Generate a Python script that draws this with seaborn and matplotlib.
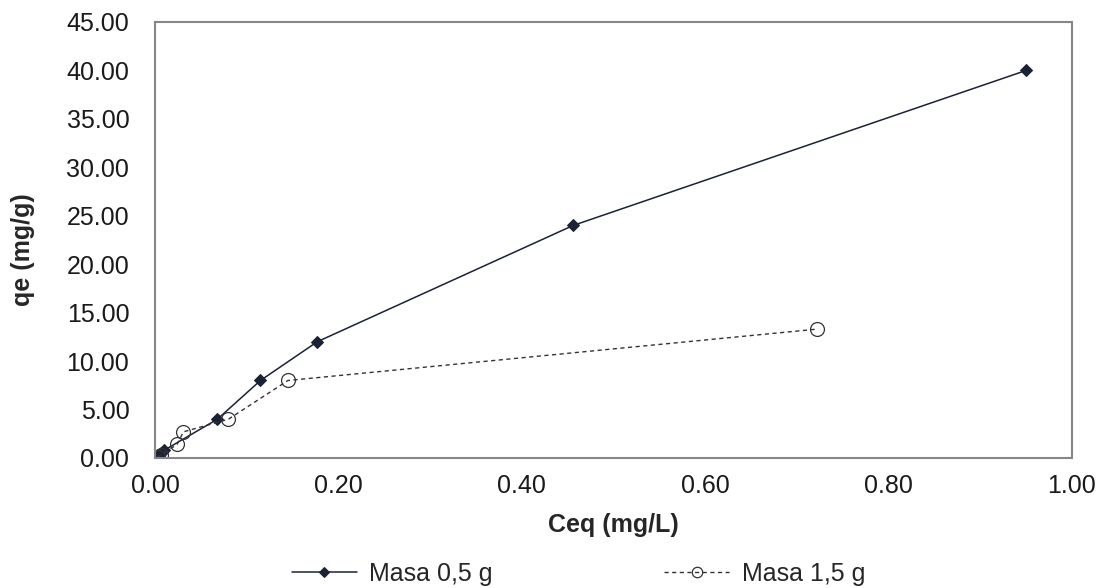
import matplotlib
matplotlib.use("Agg")
import matplotlib.pyplot as plt
import seaborn as sns

# Data
ceq_05 = [0.002, 0.004, 0.007, 0.010, 0.068, 0.115, 0.177, 0.456, 0.950]
qe_05 = [0.1, 0.2, 0.5, 0.8, 4.0, 8.0, 12.0, 24.0, 40.0]
ceq_15 = [0.003, 0.006, 0.024, 0.031, 0.080, 0.145, 0.722]
qe_15 = [0.1, 0.3, 1.4, 2.7, 4.0, 8.0, 13.3]
label_05 = "Masa 0,5 g"
label_15 = "Masa 1,5 g"
x_ticks = [0.0, 0.2, 0.4, 0.6, 0.8, 1.0]
y_ticks = [0, 5, 10, 15, 20, 25, 30, 35, 40, 45]

sns.set_theme(style="white")
plt.rcParams['font.family'] = ['Liberation Sans', 'DejaVu Sans']

FS = 18
fig = plt.figure(figsize=(11.04, 5.88), dpi=100)
ax = fig.add_axes([0.1404, 0.2211, 0.8306, 0.7415])

sns.lineplot(x=ceq_05, y=qe_05, ax=ax, sort=False, color="#1c2235", linewidth=1.1,
             marker="D", markersize=6.5, markeredgecolor="#1c2235", markerfacecolor="#1c2235",
             label=label_05)
sns.lineplot(x=ceq_15, y=qe_15, ax=ax, sort=False, color="#333333", linewidth=1.0,
             dashes=False, marker="o", markersize=10, markerfacecolor="none",
             markeredgecolor="#333333", markeredgewidth=0.9, label=label_15)
ax.lines[1].set_linestyle((0, (3, 2.5)))

ax.set_xlim(0, 1.0)
ax.set_ylim(0, 45)
ax.set_xticks(x_ticks)
ax.set_yticks(y_ticks)
ax.set_xticklabels([f"{v:.2f}" for v in x_ticks], fontsize=FS)
ax.set_yticklabels([f"{v:.2f}" for v in y_ticks], fontsize=FS)
ax.set_xlabel("Ceq (mg/L)", fontsize=FS, fontweight="bold")
ax.set_ylabel("qe (mg/g)", fontsize=FS, fontweight="bold")
ax.xaxis.set_label_coords(0.5, -0.126)
ax.yaxis.set_label_coords(-0.131, 0.477)

for s in ax.spines.values():
    s.set_color("#868686")
    s.set_linewidth(1.5)
ax.tick_params(axis="x", length=0, pad=11.5, labelcolor="#1a1a1a")
ax.tick_params(axis="y", length=0, pad=18.5, labelcolor="#1a1a1a")

leg = ax.legend(loc="center", bbox_to_anchor=(0.524, 0.024), bbox_transform=fig.transFigure,
                ncol=2, frameon=False, fontsize=FS, columnspacing=6.85, handlelength=2.6,
                handletextpad=0.5, borderpad=0)
for h in leg.legend_handles:
    h.set_markersize(h.get_markersize() * 0.75)

fig.savefig("out.png", dpi=100)
